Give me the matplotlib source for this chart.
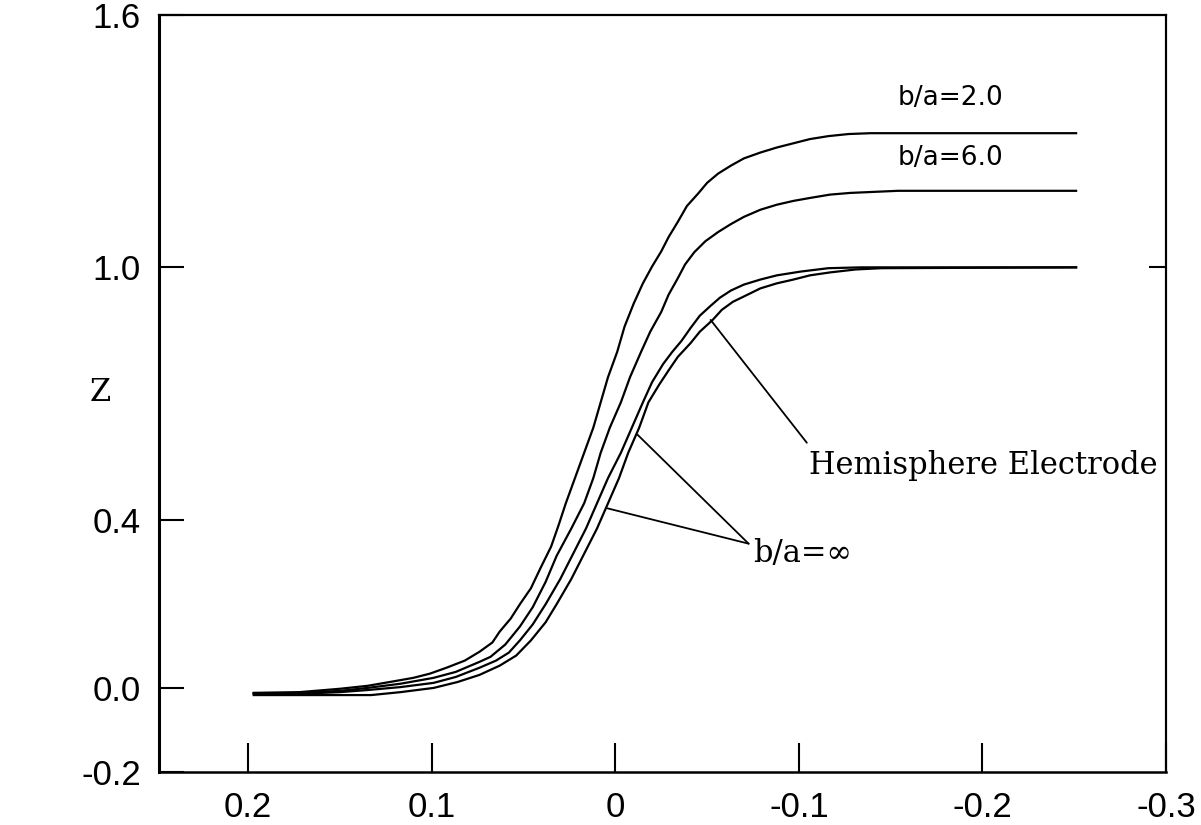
import matplotlib
matplotlib.use("Agg")
import matplotlib.pyplot as plt

# curves (x is the potential axis, running right to left)
x_ba2 = [0.197, 0.172, 0.150, 0.135, 0.123, 0.110, 0.101, 0.092, 0.082, 0.074,
         0.067, 0.063, 0.057, 0.052, 0.046, 0.041, 0.035, 0.031, 0.027, 0.022,
         0.017, 0.012, 0.008, 0.004, -0.001, -0.005, -0.010, -0.015, -0.020, -0.025,
         -0.029, -0.034, -0.039, -0.045, -0.050, -0.056, -0.063, -0.070, -0.079, -0.088,
         -0.097, -0.106, -0.116, -0.127, -0.139, -0.251]
z_ba2 = [-0.012, -0.010, -0.002, 0.005, 0.014, 0.024, 0.034, 0.048, 0.065, 0.086,
         0.108, 0.134, 0.165, 0.199, 0.237, 0.283, 0.336, 0.386, 0.439, 0.499,
         0.559, 0.619, 0.679, 0.739, 0.799, 0.859, 0.914, 0.962, 1.002, 1.038,
         1.072, 1.108, 1.146, 1.175, 1.201, 1.223, 1.242, 1.259, 1.273, 1.285,
         1.295, 1.305, 1.312, 1.317, 1.319, 1.319]

x_ba6 = [0.197, 0.172, 0.150, 0.135, 0.117, 0.099, 0.087, 0.074, 0.068, 0.060,
         0.052, 0.045, 0.038, 0.032, 0.024, 0.017, 0.012, 0.008, 0.003, -0.003,
         -0.008, -0.014, -0.019, -0.025, -0.029, -0.034, -0.038, -0.043, -0.049, -0.056,
         -0.063, -0.070, -0.079, -0.088, -0.097, -0.106, -0.117, -0.128, -0.154, -0.251]
z_ba6 = [-0.012, -0.012, -0.007, 0.000, 0.010, 0.024, 0.038, 0.062, 0.074, 0.103,
         0.146, 0.192, 0.252, 0.314, 0.379, 0.439, 0.499, 0.559, 0.619, 0.679,
         0.739, 0.799, 0.847, 0.894, 0.935, 0.974, 1.007, 1.036, 1.062, 1.084,
         1.103, 1.120, 1.137, 1.149, 1.158, 1.165, 1.173, 1.177, 1.182, 1.182]

x_inf = [0.197, 0.172, 0.150, 0.135, 0.117, 0.099, 0.087, 0.074, 0.065, 0.058,
         0.052, 0.045, 0.038, 0.030, 0.023, 0.016, 0.010, 0.004, -0.003, -0.009,
         -0.015, -0.020, -0.026, -0.031, -0.036, -0.041, -0.046, -0.052, -0.057, -0.063,
         -0.070, -0.079, -0.088, -0.101, -0.116, -0.134, -0.251]
z_inf = [-0.014, -0.014, -0.010, -0.005, 0.002, 0.012, 0.026, 0.048, 0.065, 0.084,
         0.113, 0.151, 0.199, 0.259, 0.319, 0.379, 0.439, 0.499, 0.559, 0.619,
         0.679, 0.727, 0.770, 0.799, 0.825, 0.856, 0.885, 0.909, 0.928, 0.945,
         0.959, 0.971, 0.981, 0.990, 0.998, 1.000, 1.000]

x_hemi = [0.197, 0.172, 0.133, 0.117, 0.099, 0.086, 0.074, 0.063, 0.054, 0.046,
          0.038, 0.032, 0.024, 0.017, 0.010, 0.004, -0.002, -0.007, -0.013, -0.018,
          -0.024, -0.029, -0.034, -0.041, -0.046, -0.053, -0.058, -0.064, -0.072, -0.079,
          -0.088, -0.097, -0.106, -0.117, -0.131, -0.145, -0.251]
z_hemi = [-0.017, -0.017, -0.017, -0.010, 0.000, 0.014, 0.031, 0.053, 0.077, 0.113,
          0.156, 0.199, 0.259, 0.319, 0.379, 0.439, 0.499, 0.559, 0.619, 0.679,
          0.722, 0.755, 0.787, 0.820, 0.847, 0.875, 0.899, 0.918, 0.935, 0.950,
          0.962, 0.971, 0.981, 0.988, 0.995, 0.998, 1.000]

x_ticks = [0.2, 0.1, 0.0, -0.1, -0.2, -0.3]
x_labels = ["0.2", "0.1", "0", "-0.1", "-0.2", "-0.3"]
y_ticks = [-0.2, 0.0, 0.4, 1.0, 1.6]
y_labels = ["-0.2", "0.0", "0.4", "1.0", "1.6"]

tick_font = ["Liberation Sans", "DejaVu Sans"]

fig = plt.figure(figsize=(12.01, 8.25), dpi=100)
ax = fig.add_axes([0.1324, 0.0642, 0.8385, 0.9176])

for xs, zs in [(x_ba2, z_ba2), (x_ba6, z_ba6), (x_inf, z_inf), (x_hemi, z_hemi)]:
    ax.plot(xs, zs, color="black", lw=1.6)

ax.set_xlim(0.2486, -0.3)
ax.set_ylim(-0.2, 1.6)

ax.set_xticks(x_ticks)
ax.set_xticklabels(x_labels, family=tick_font, fontsize=25)
ax.set_yticks(y_ticks)
ax.set_yticklabels(y_labels, family=tick_font, fontsize=25)
ax.tick_params(axis="x", direction="in", length=21, width=1.5, pad=14)
ax.tick_params(axis="y", direction="in", length=18, width=1.5, pad=13)

sec = ax.secondary_yaxis("right")
sec.set_yticks([1.0])
sec.tick_params(direction="in", length=12, width=1.5, labelright=False)
sec.spines["right"].set_linewidth(1.5)

ax.spines["left"].set_linewidth(2.2)
ax.spines["bottom"].set_linewidth(1.8)
ax.spines["top"].set_linewidth(1.6)
ax.spines["right"].set_linewidth(1.5)

ax.set_ylabel("Z", rotation=0, family="DejaVu Serif", fontsize=22)
ax.yaxis.set_label_coords(-0.058, 0.481)

# curve labels
ax.text(-0.1828, 1.403, "b/a=2.0", fontsize=19, ha="center", va="center")
ax.text(-0.1828, 1.261, "b/a=6.0", fontsize=19, ha="center", va="center")
ax.text(-0.1053, 0.530, "Hemisphere Electrode", family="DejaVu Serif",
        fontsize=22, ha="left", va="center")
ax.text(-0.0748, 0.319, "b/a=\u221e", family="DejaVu Serif",
        fontsize=22, ha="left", va="center")

# leader lines
leader = dict(arrowstyle="-", color="black", lw=1.3, shrinkA=0, shrinkB=0)
ax.annotate("", xy=(-0.0519, 0.875), xytext=(-0.1043, 0.583), arrowprops=leader)
ax.annotate("", xy=(-0.0121, 0.602), xytext=(-0.0726, 0.343), arrowprops=leader)
ax.annotate("", xy=(0.0043, 0.427), xytext=(-0.0726, 0.343), arrowprops=leader)

fig.savefig("out.png", dpi=100)
